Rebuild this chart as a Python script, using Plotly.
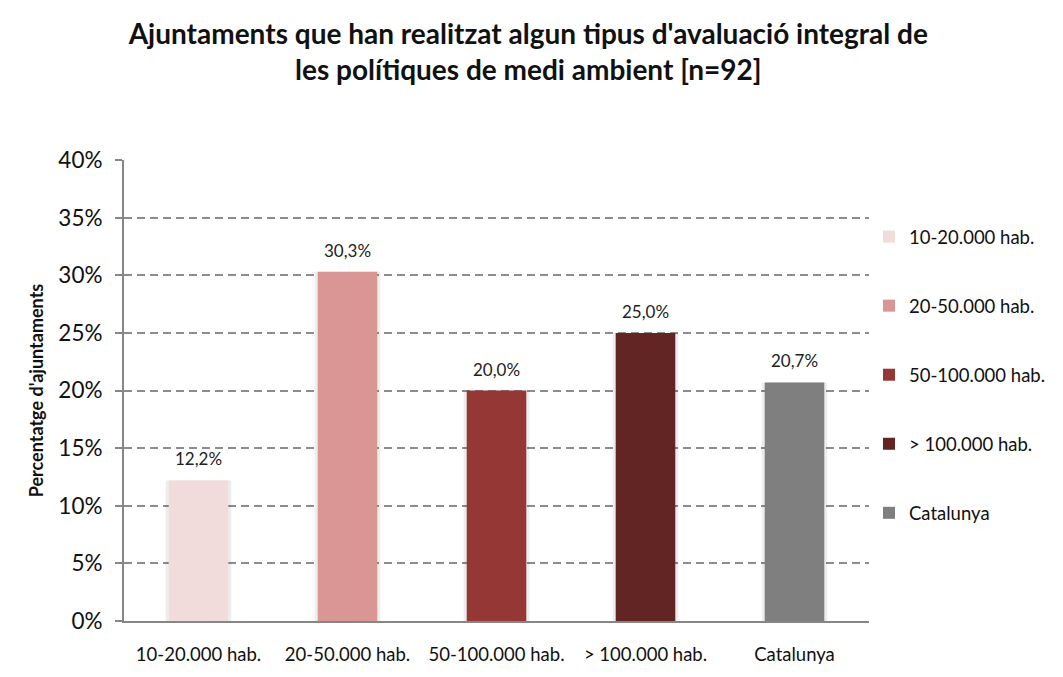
import plotly.graph_objects as go

# Data: share of municipalities with an integral environmental-policy evaluation
categories = ["10-20.000 hab.", "20-50.000 hab.", "50-100.000 hab.", "> 100.000 hab.", "Catalunya"]
values = [12.2, 30.3, 20.0, 25.0, 20.7]
colors = ["#F2DCDB", "#D99694", "#953735", "#632523", "#7F7F7F"]
y_ticks = [0, 5, 10, 15, 20, 25, 30, 35, 40]
y_tick_labels = [f"{t}%" for t in y_ticks]

FONT = "Lato, 'Open Sans', sans-serif"

fig = go.Figure()

for cat, val, col in zip(categories, values, colors):
    # soft shadow behind each bar
    fig.add_trace(go.Bar(
        x=[cat], y=[val], width=0.44,
        marker=dict(color="rgba(0,0,0,0.07)", line=dict(width=0)),
        showlegend=False, hoverinfo="skip",
    ))
    fig.add_trace(go.Bar(
        x=[cat], y=[val], name=cat, width=0.40,
        marker=dict(color=col, line=dict(width=0)),
        legendgroup=cat,
    ))
    # value label above the bar
    fig.add_annotation(
        x=cat, y=val, text=f"{val:.1f}%".replace(".", ","),
        showarrow=False, yanchor="bottom", yshift=9,
        font=dict(size=17, color="#222222", family=FONT),
    )

fig.update_layout(
    width=1063, height=677,
    barmode="overlay",
    plot_bgcolor="white", paper_bgcolor="white",
    margin=dict(l=124, r=178, t=160, b=45),
    title=dict(
        text="Ajuntaments que han realitzat algun tipus d'avaluació integral de<br>les polítiques de medi ambient [n=92]",
        x=0.497, xanchor="center", y=0.935, yanchor="top",
        font=dict(size=28, color="#111111", family=FONT, weight="bold"),
    ),
    font=dict(family=FONT, color="#111111"),
    legend=dict(
        x=1.0, xanchor="left", y=0.874, yanchor="top",
        font=dict(size=18.5, color="#111111", family=FONT),
        tracegroupgap=42, itemwidth=30,
        bgcolor="rgba(0,0,0,0)",
    ),
    showlegend=True,
)

fig.update_xaxes(
    type="category", categoryorder="array", categoryarray=categories,
    showline=True, linecolor="#868686", linewidth=2,
    ticks="", tickfont=dict(size=18.5, color="#111111", family=FONT),
    ticklabelstandoff=16,
    showgrid=False,
)

fig.update_yaxes(
    range=[0, 40], tickvals=y_ticks, ticktext=y_tick_labels,
    showline=True, linecolor="#868686", linewidth=2,
    ticks="outside", ticklen=7, tickcolor="#868686", tickwidth=2,
    tickfont=dict(size=22.5, color="#111111", family=FONT),
    ticklabelstandoff=8,
    showgrid=True, gridcolor="#8C8C8C", gridwidth=1.5, griddash="8px,5px",
    zeroline=False,
    title=dict(text="Percentatge d'ajuntaments", standoff=10,
               font=dict(size=18, color="#111111", family=FONT, weight="bold")),
)

fig.write_html("out.html")
